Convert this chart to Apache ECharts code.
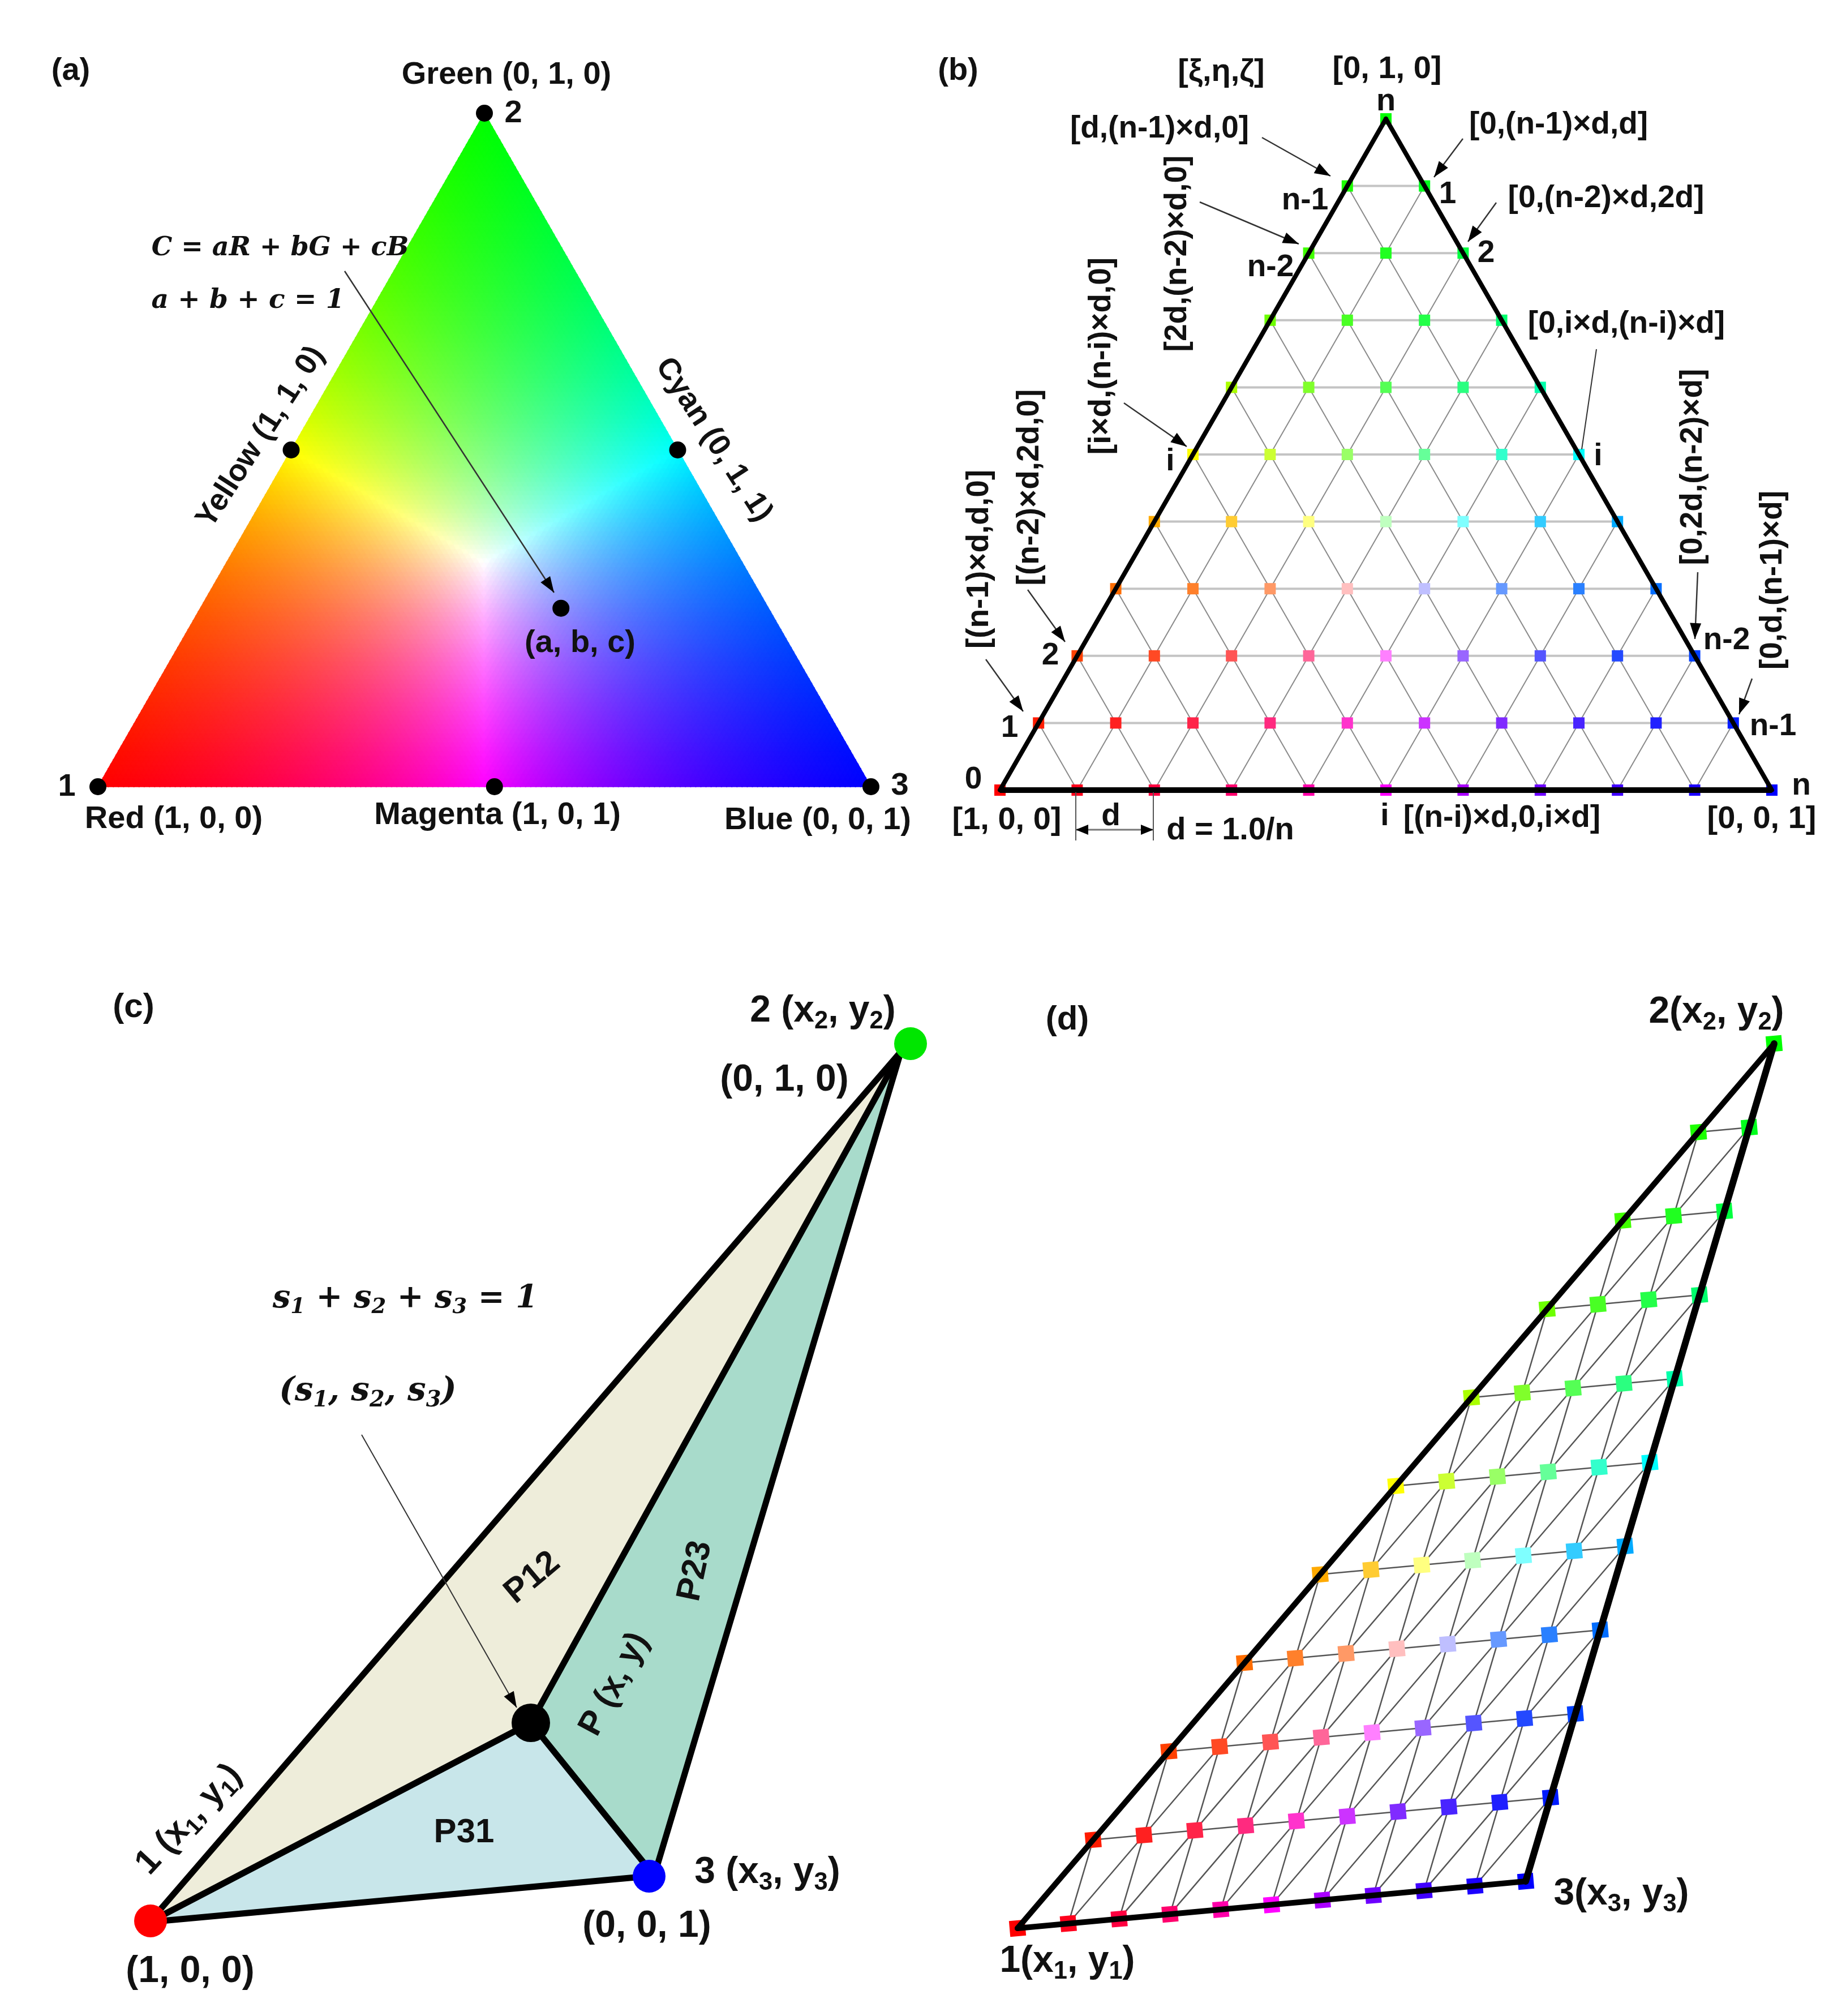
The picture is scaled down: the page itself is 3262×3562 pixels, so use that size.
<!DOCTYPE html>
<html>
<head>
<meta charset="utf-8">
<title>Barycentric colour mapping</title>
<script src="https://cdn.jsdelivr.net/npm/echarts@6/dist/echarts.min.js"></script>
<style>
  html, body { margin: 0; padding: 0; background: #fff; }
  #main { width: 3262px; height: 3562px; }
</style>
</head>
<body>
<div id="main"></div>
<script>
// panel (a): marked points, [a, b, c] shares of red, green, blue
var cornerPoints = [[1, 0, 0], [0, 1, 0], [0, 0, 1]];
var midPoints = [[0.5, 0.5, 0], [0, 0.5, 0.5], [0.487, 0, 0.513]];
var samplePoint = [0.2685, 0.265, 0.4665];

// panels (b) and (d): mesh levels, n = 10
var meshLevels = [0, 0.1, 0.2, 0.3, 0.4, 0.5, 0.6, 0.7, 0.8, 0.9, 1];

// panel (c): vertices
var cVertex1 = [124, 144];
var cVertex2 = [1452, 1682];
var cVertex3 = [1016, 226];
var cPointP = [798, 496];
var cDots = [
  { at: [126, 146], color: '#ff0000', size: 58 },
  { at: [1469, 1696], color: '#00e600', size: 58 },
  { at: [1007, 225], color: '#0000ff', size: 58 },
  { at: [798, 496], color: '#000000', size: 68 }
];
var cRegions = [
  { pts: [cVertex1, cVertex2, cPointP], color: '#eeedda' },
  { pts: [cPointP, cVertex2, cVertex3], color: '#a8dbcb' },
  { pts: [cVertex1, cPointP, cVertex3], color: '#c8e6ea' }
];

// panel (d): vertices
var dVertex1 = [98, 133];
var dVertex2 = [1435, 1696];
var dVertex3 = [996, 216];

// gradient resolution of panel (a)
var gradientSteps = 150;

// colour of a mix: shares scaled so the largest one is full
function mixColor(a, b, c) {
  var m = Math.max(a, b, c);
  return 'rgb(' + Math.round(255 * a / m) + ',' + Math.round(255 * b / m) + ',' + Math.round(255 * c / m) + ')';
}
function ternary(p) {
  return [p[2] + p[1] / 2, p[1]];
}
function onTriangle(p, v1, v2, v3) {
  return [p[0] * v1[0] + p[1] * v2[0] + p[2] * v3[0], p[0] * v1[1] + p[1] * v2[1] + p[2] * v3[1]];
}

// gradient cells of panel (a)
var cells = [];
(function () {
  var N = gradientSteps;
  function pt(i, j) { return [1 - (i + j) / N, j / N, i / N]; }
  function add(p, q, r) {
    var a = (p[0] + q[0] + r[0]) / 3, b = (p[1] + q[1] + r[1]) / 3, c = (p[2] + q[2] + r[2]) / 3;
    cells.push({ pts: [ternary(p), ternary(q), ternary(r)], color: mixColor(a, b, c) });
  }
  for (var j = 0; j < N; j++) {
    for (var i = 0; i < N - j; i++) {
      add(pt(i, j), pt(i + 1, j), pt(i, j + 1));
      if (i + j < N - 1) add(pt(i + 1, j), pt(i + 1, j + 1), pt(i, j + 1));
    }
  }
})();

// mesh nodes and lines as barycentric triples
var meshNodes = [];
var meshRows = [];
var meshSlants = [];
meshLevels.forEach(function (b) {
  meshLevels.forEach(function (c) {
    if (b + c <= 1.0001) meshNodes.push([Math.max(0, 1 - b - c), b, c]);
  });
});
meshLevels.slice(1, 10).forEach(function (t) {
  meshRows.push([[1 - t, t, 0], [0, t, 1 - t]]);
  meshSlants.push([[1 - t, 0, t], [0, 1 - t, t]]);
  meshSlants.push([[t, 1 - t, 0], [t, 0, 1 - t]]);
});

function polySeries(idx, list, z) {
  return {
    type: 'custom', coordinateSystem: 'cartesian2d', xAxisIndex: idx, yAxisIndex: idx,
    animation: false, silent: true, progressive: 0, z: z,
    data: list.map(function (d, i) { return [i]; }),
    renderItem: function (params, api) {
      var d = list[params.dataIndex];
      return {
        type: 'polygon',
        shape: { points: d.pts.map(function (p) { return api.coord(p); }) },
        style: { fill: d.color, stroke: d.color, lineWidth: 1.5 }
      };
    }
  };
}
function segSeries(idx, list, z, color, width, cap) {
  return {
    type: 'custom', coordinateSystem: 'cartesian2d', xAxisIndex: idx, yAxisIndex: idx,
    animation: false, silent: true, z: z,
    data: list.map(function (d, i) { return [i]; }),
    renderItem: function (params, api) {
      var d = list[params.dataIndex];
      var p = api.coord(d[0]), q = api.coord(d[1]);
      return {
        type: 'line',
        shape: { x1: p[0], y1: p[1], x2: q[0], y2: q[1] },
        style: { stroke: color, lineWidth: width, lineCap: cap || 'butt' }
      };
    }
  };
}
function dotSeries(idx, list, z, symbol, rotate) {
  return {
    type: 'scatter', xAxisIndex: idx, yAxisIndex: idx, animation: false, silent: true, z: z,
    symbol: symbol, symbolRotate: rotate || 0, clip: false,
    data: list.map(function (d) {
      return { value: d.at, symbolSize: d.size, itemStyle: { color: d.color, opacity: 1 } };
    })
  };
}

var series = [];
// (a)
series.push(polySeries(0, cells, 2));
series.push(dotSeries(0, cornerPoints.concat(midPoints, [samplePoint]).map(function (p) {
  return { at: ternary(p), color: '#000', size: 30 };
}), 6, 'circle'));
// (b)
var bMap = function (p) { return ternary(p); };
series.push(segSeries(1, meshRows.map(function (s) { return s.map(bMap); }), 3, '#c4c4c4', 4));
series.push(segSeries(1, meshSlants.map(function (s) { return s.map(bMap); }), 3, '#8a8a8a', 2));
series.push(dotSeries(1, meshNodes.map(function (p) {
  return { at: bMap(p), color: mixColor(p[0], p[1], p[2]), size: 20 };
}), 4, 'rect'));
series.push(segSeries(1, [[ternary(cornerPoints[0]), ternary(cornerPoints[1])], [ternary(cornerPoints[1]), ternary(cornerPoints[2])]], 5, '#000', 8, 'round'));
series.push(segSeries(1, [[ternary(cornerPoints[0]), ternary(cornerPoints[2])]], 5, '#000', 10));
// (c)
series.push(polySeries(2, cRegions, 2));
series.push(segSeries(2, [
  [cVertex1, cVertex2], [cVertex2, cVertex3], [cVertex3, cVertex1],
  [cVertex1, cPointP], [cPointP, cVertex2], [cPointP, cVertex3]
], 3, '#000', 11, 'round'));
series.push(dotSeries(2, cDots, 6, 'circle'));
// (d)
var dMap = function (p) { return onTriangle(p, dVertex1, dVertex2, dVertex3); };
series.push(segSeries(3, meshRows.concat(meshSlants).map(function (s) { return s.map(dMap); }), 3, '#555', 2.5));
series.push(dotSeries(3, meshNodes.map(function (p) {
  return { at: dMap(p), color: mixColor(p[0], p[1], p[2]), size: 28 };
}), 4, 'rect', 5));
series.push(segSeries(3, [[dVertex1, dVertex2], [dVertex3, dVertex1]], 5, '#000', 10, 'round'));
series.push(segSeries(3, [[dVertex2, dVertex3]], 5, '#000', 12, 'round'));

// texts and arrows laid over the panels
var SANS = '"Liberation Sans", Arial, sans-serif';
var SERIF = '"DejaVu Serif", serif';
var graphics = [];

function txt(str, x, y, size, rot, math) {
  var fam = math ? SERIF : SANS;
  var st = {
    text: str.replace(/_(\d)/g, '{s|$1}'),
    fontSize: size, fontFamily: fam, fontWeight: 'bold', fontStyle: math ? 'italic' : 'normal',
    fill: '#111', align: 'center', verticalAlign: 'middle'
  };
  if (str.indexOf('_') >= 0) {
    st.lineHeight = size * 1.2;
    st.rich = { s: { fontSize: size * 0.66, fontFamily: fam, fontWeight: 'bold', fontStyle: st.fontStyle, fill: '#111', verticalAlign: 'bottom', lineHeight: size * 1.2 } };
  }
  graphics.push({ type: 'text', x: x, y: rot ? y : y + 3, rotation: (rot || 0) * Math.PI / 180, z: 100, style: st, silent: true });
}
function head(x1, y1, x2, y2, len, wid) {
  var dx = x2 - x1, dy = y2 - y1, l = Math.sqrt(dx * dx + dy * dy);
  dx /= l; dy /= l;
  graphics.push({
    type: 'polygon', z: 100, silent: true,
    shape: { points: [[x2, y2], [x2 - dx * len - dy * wid / 2, y2 - dy * len + dx * wid / 2], [x2 - dx * len + dy * wid / 2, y2 - dy * len - dx * wid / 2]] },
    style: { fill: '#000' }
  });
}
function arrow(x1, y1, x2, y2, width, color, noHead) {
  graphics.push({
    type: 'line', z: 100, silent: true,
    shape: { x1: x1, y1: y1, x2: x2, y2: y2 },
    style: { stroke: color || '#333', lineWidth: width || 2.5 }
  });
  if (!noHead) head(x1, y1, x2, y2, 28, 20);
}

// (a)
txt('(a)', 125, 123, 56);
txt('Green (0, 1, 0)', 895, 130, 56);
txt('2', 907, 198, 56);
txt('C = aR + bG + cB', 495, 436, 46, 0, true);
txt('a + b + c = 1', 438, 529, 47, 0, true);
txt('Yellow (1, 1, 0)', 461, 772, 54, 57);
txt('Cyan (0, 1, 1)', 1261, 777, 54, -57);
txt('(a, b, c)', 1025, 1134, 56);
txt('1', 118, 1388, 56);
txt('3', 1590, 1386, 56);
txt('Red (1, 0, 0)', 307, 1445, 56);
txt('Magenta (1, 0, 1)', 879, 1438, 56);
txt('Blue (0, 0, 1)', 1445, 1447, 56);
arrow(609, 479, 979, 1047, 2.5);

// (b)
txt('(b)', 1693, 123, 56);
txt('[ξ,η,ζ]', 2158, 125, 56);
txt('[0, 1, 0]', 2451, 120, 56);
txt('n', 2449, 177, 56);
txt('[d,(n-1)×d,0]', 2049, 225, 55);
txt('[0,(n-1)×d,d]', 2754, 218, 55);
txt('n-1', 2306, 352, 55);
txt('1', 2558, 341, 55);
txt('[0,(n-2)×d,2d]', 2838, 348, 55);
txt('[2d,(n-2)×d,0]', 2081, 448, 55, 90);
txt('n-2', 2245, 470, 55);
txt('2', 2626, 445, 55);
txt('[i×d,(n-i)×d,0]', 1947, 629, 55, 90);
txt('[0,i×d,(n-i)×d]', 2874, 570, 55);
txt('i', 2068, 813, 55);
txt('i', 2824, 804, 55);
txt('[(n-2)×d,2d,0]', 1820, 861, 55, 90);
txt('[(n-1)×d,d,0]', 1731, 988, 55, 90);
txt('[0,2d,(n-2)×d]', 2992, 825, 55, 90);
txt('[0,d,(n-1)×d]', 3133, 1025, 55, 90);
txt('n-2', 3051, 1129, 55);
txt('n-1', 3133, 1281, 55);
txt('2', 1856, 1156, 55);
txt('1', 1784, 1284, 55);
txt('0', 1720, 1375, 55);
txt('n', 3183, 1386, 55);
txt('[1, 0, 0]', 1779, 1447, 56);
txt('d', 1963, 1440, 55);
txt('d = 1.0/n', 2174, 1465, 56);
txt('i', 2447, 1440, 55);
txt('[(n-i)×d,0,i×d]', 2654, 1443, 55);
txt('[0, 0, 1]', 3113, 1445, 56);
arrow(2230, 243, 2351, 311);
arrow(2585, 245, 2534, 313);
arrow(2120, 357, 2295, 431);
arrow(2644, 358, 2594, 427);
arrow(1986, 712, 2097, 789);
arrow(2821, 617, 2795, 794, 2, '#333', true);
arrow(1816, 1042, 1882, 1134);
arrow(1742, 1165, 1808, 1257);
arrow(3000, 1011, 2995, 1129);
arrow(3096, 1199, 3073, 1262);
arrow(1901, 1400, 1901, 1485, 2, '#555', true);
arrow(2038, 1400, 2038, 1485, 2, '#555', true);
arrow(1901, 1466, 2038, 1466, 3, '#777', true);
head(2038, 1466, 1901, 1466, 22, 18);
head(1901, 1466, 2038, 1466, 22, 18);

// (c)
txt('(c)', 236, 1777, 60);
txt('2 (x_2, y_2)', 1454, 1784, 66);
txt('(0, 1, 0)', 1386, 1906, 66);
txt('s_1 + s_2 + s_3 = 1', 716, 2292, 56, 0, true);
txt('(s_1, s_2, s_3)', 650, 2456, 58, 0, true);
txt('P12', 941, 2788, 60, 40);
txt('P23', 1229, 2776, 60, 78);
txt('P (x, y)', 1086, 2976, 60, 62);
txt('P31', 820, 3235, 60);
txt('1 (x_1, y_1)', 334, 3215, 62, 47);
txt('3 (x_3, y_3)', 1356, 3306, 66);
txt('(0, 0, 1)', 1143, 3401, 66);
txt('(1, 0, 0)', 336, 3481, 66);
arrow(639, 2535, 913, 3017, 2);

// (d)
txt('(d)', 1886, 1799, 60);
txt('2(x_2, y_2)', 3033, 1786, 66);
txt('3(x_3, y_3)', 2865, 3344, 66);
txt('1(x_1, y_1)', 1886, 3463, 66);

function hiddenAxis(idx, max) {
  return { type: 'value', gridIndex: idx, show: false, min: 0, max: max, splitLine: { show: false } };
}

var chart = echarts.init(document.getElementById('main'), null, { renderer: 'canvas' });
chart.setOption({
  backgroundColor: '#fff',
  animation: false,
  grid: [
    { left: 173, top: 200, width: 1366, height: 1190 },
    { left: 1767, top: 210, width: 1364, height: 1186 },
    { left: 140, top: 1700, width: 1500, height: 1840 },
    { left: 1700, top: 1700, width: 1562, height: 1840 }
  ],
  xAxis: [hiddenAxis(0, 1), hiddenAxis(1, 1), hiddenAxis(2, 1500), hiddenAxis(3, 1562)],
  yAxis: [hiddenAxis(0, 1), hiddenAxis(1, 1), hiddenAxis(2, 1840), hiddenAxis(3, 1840)],
  series: series,
  graphic: { elements: graphics }
});
</script>
</body>
</html>
